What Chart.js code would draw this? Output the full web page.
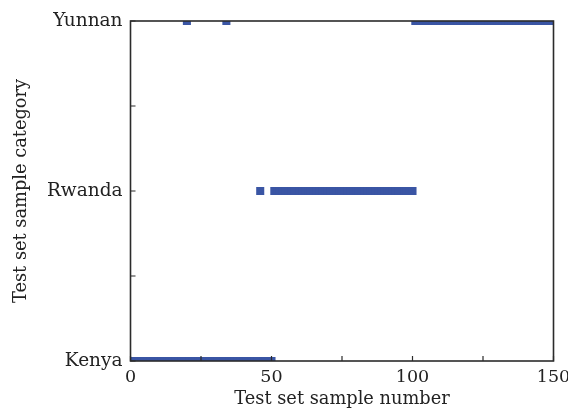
<!DOCTYPE html>
<html>
<head>
<meta charset="utf-8">
<script src="https://cdn.jsdelivr.net/npm/chart.js@4/dist/chart.umd.min.js"></script>
<style>
  html, body { margin: 0; padding: 0; background: #fff; }
  #wrap { width: 568px; height: 408px; }
</style>
</head>
<body>
<div id="wrap"><canvas id="c" width="568" height="408"></canvas></div>
<script>
// Category names (y-axis tick labels)
const categories = ['Kenya', 'Rwanda', 'Yunnan'];
// Sample numbers 1..150
const sampleNumbers = [
  1,2,3,4,5,6,7,8,9,10,11,12,13,14,15,16,17,18,19,20,21,22,23,24,25,
  26,27,28,29,30,31,32,33,34,35,36,37,38,39,40,41,42,43,44,45,46,47,48,49,50,
  51,52,53,54,55,56,57,58,59,60,61,62,63,64,65,66,67,68,69,70,71,72,73,74,75,
  76,77,78,79,80,81,82,83,84,85,86,87,88,89,90,91,92,93,94,95,96,97,98,99,100,
  101,102,103,104,105,106,107,108,109,110,111,112,113,114,115,116,117,118,119,120,121,122,123,124,125,
  126,127,128,129,130,131,132,133,134,135,136,137,138,139,140,141,142,143,144,145,146,147,148,149,150
];
// Predicted category index per sample (0 = Kenya, 1 = Rwanda, 2 = Yunnan)
const predictedCategory = [
  0,0,0,0,0,0,0,0,0,0,0,0,0,0,0,0,0,0,0,2,0,0,0,0,0,
  0,0,0,0,0,0,0,0,2,0,0,0,0,0,0,0,0,0,0,0,1,0,0,0,0,
  1,1,1,1,1,1,1,1,1,1,1,1,1,1,1,1,1,1,1,1,1,1,1,1,1,
  1,1,1,1,1,1,1,1,1,1,1,1,1,1,1,1,1,1,1,1,1,1,1,1,1,
  2,2,2,2,2,2,2,2,2,2,2,2,2,2,2,2,2,2,2,2,2,2,2,2,2,
  2,2,2,2,2,2,2,2,2,2,2,2,2,2,2,2,2,2,2,2,2,2,2,2,2
];
const xTickLabels = [0, 50, 100, 150];

const points = sampleNumbers.map((s, i) => ({ x: s, y: predictedCategory[i] }));

const FONT = { family: '"DejaVu Serif", serif', size: 17.5 };
const YFONT = { family: '"DejaVu Serif", serif', size: 18.5 };
const TITLEFONT = { family: '"DejaVu Serif", serif', size: 17.8 };
const TEXT = '#222';
const AXIS = '#2b2b2b';

const framePlugin = {
  id: 'frame',
  afterDatasetsDraw(chart) {
    const { ctx, chartArea: a, scales } = chart;
    ctx.save();
    ctx.strokeStyle = AXIS;
    ctx.lineWidth = 1.6;
    ctx.strokeRect(a.left, a.top, a.right - a.left, a.bottom - a.top);
    ctx.lineWidth = 1.2;
    ctx.beginPath();
    scales.x.ticks.forEach(t => {
      const px = scales.x.getPixelForValue(t.value);
      ctx.moveTo(px, a.bottom);
      ctx.lineTo(px, a.bottom - 5);
    });
    scales.y.ticks.forEach(t => {
      const py = scales.y.getPixelForValue(t.value);
      ctx.moveTo(a.left, py);
      ctx.lineTo(a.left + 5, py);
    });
    ctx.stroke();
    ctx.restore();
  }
};

new Chart(document.getElementById('c'), {
  type: 'scatter',
  data: {
    datasets: [{
      data: points,
      backgroundColor: '#3a55a4',
      borderColor: '#3a55a4',
      pointStyle: 'rect',
      pointRadius: 5.7,
      pointBorderWidth: 0,
      pointHoverRadius: 5.7,
      clip: 0
    }]
  },
  options: {
    responsive: false,
    animation: false,
    devicePixelRatio: 1,
    layout: { padding: { left: 0, top: 21, right: 14.5, bottom: 0 } },
    plugins: { legend: { display: false }, tooltip: { enabled: false } },
    scales: {
      x: {
        type: 'linear',
        min: 0, max: 150,
        grid: { display: false, drawTicks: false },
        border: { display: false },
        ticks: {
          stepSize: 25,
          autoSkip: false,
          maxRotation: 0,
          padding: 6,
          color: TEXT,
          font: FONT,
          callback: v => xTickLabels.includes(v) ? String(v) : ''
        },
        title: {
          display: true,
          text: 'Test set sample number',
          color: TEXT,
          font: TITLEFONT,
          padding: { top: 0, bottom: -2 }
        },
        afterFit(scale) {
          scale.height = 47;
          scale.paddingLeft = 0;
          scale.paddingRight = 0;
        }
      },
      y: {
        type: 'linear',
        min: 0, max: 2,
        grid: { display: false, drawTicks: false },
        border: { display: false },
        ticks: {
          stepSize: 0.5,
          autoSkip: false,
          padding: 8,
          color: TEXT,
          font: YFONT,
          callback: v => Number.isInteger(v) ? categories[v] : ''
        },
        title: {
          display: true,
          text: 'Test set sample category',
          color: TEXT,
          font: TITLEFONT,
          padding: { top: 11, bottom: 0 }
        },
        afterFit(scale) {
          scale.width = 130.5;
          scale.paddingTop = 0;
          scale.paddingBottom = 0;
        }
      }
    }
  },
  plugins: [framePlugin]
});
</script>
</body>
</html>
